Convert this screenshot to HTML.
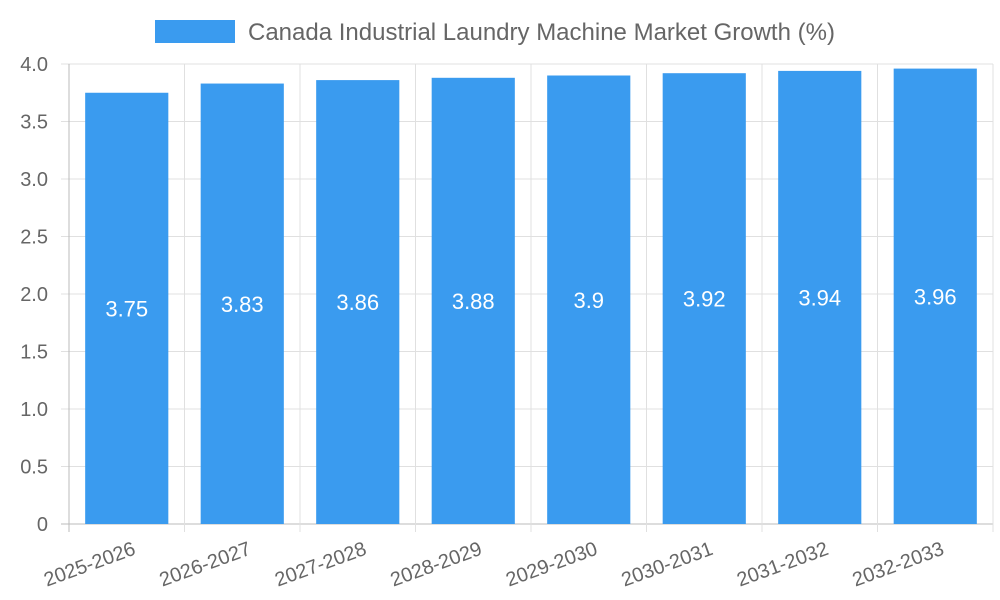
<!DOCTYPE html>
<html><head><meta charset="utf-8"><style>
html,body{margin:0;padding:0;background:#fff;width:1000px;height:600px;overflow:hidden}
svg text{font-family:"Liberation Sans",sans-serif}
</style></head><body>
<svg id="chart" width="1000" height="600" xmlns="http://www.w3.org/2000/svg">
<g id="legend">
<rect x="155" y="20" width="80" height="23" fill="#3a9bef"/>
<text x="248" y="40" font-size="24" fill="#666">Canada Industrial Laundry Machine Market Growth (%)</text>
</g>
<g id="grid"></g><g id="bars"></g><g id="labels"></g>
</svg>
<script>
const categories=["2025-2026","2026-2027","2027-2028","2028-2029","2029-2030","2030-2031","2031-2032","2032-2033"];
const values=[3.75,3.83,3.86,3.88,3.9,3.92,3.94,3.96];
const yTicks=[0,0.5,1,1.5,2,2.5,3,3.5,4];
const yTickLabels=["0","0.5","1.0","1.5","2.0","2.5","3.0","3.5","4.0"];
const NS="http://www.w3.org/2000/svg";
const L=69,R=993,T=64,B=524,yMax=4;
const bw=(R-L)/categories.length;
const y=v=>B-(v/yMax)*(B-T);
const x=i=>L+i*bw;
function mk(tag,attrs,parent,text){const e=document.createElementNS(NS,tag);for(const k in attrs)e.setAttribute(k,attrs[k]);if(text!==undefined)e.textContent=text;parent.appendChild(e);return e;}
const grid=document.getElementById('grid'),bars=document.getElementById('bars'),labels=document.getElementById('labels');
yTicks.forEach((t,i)=>{
  const g=mk('line',{x1:L-8,x2:R,y1:y(t),y2:y(t),stroke:i===0?'#bbb':'#e0e0e0','stroke-width':1},grid);
  
  
  const tx=mk('text',{x:L-21,y:y(t)+7,'text-anchor':'end','font-size':20,fill:'#666'},labels,yTickLabels[i]);
  
  
});
for(let i=0;i<=categories.length;i++){
  const g=mk('line',{x1:x(i),x2:x(i),y1:T,y2:B+8,stroke:i===0?'#bbb':'#e0e0e0','stroke-width':1},grid);
  
  
}
categories.forEach((c,i)=>{
  const cx=x(i)+bw/2,w=bw*0.72;
  const r=mk('rect',{x:cx-w/2,y:y(values[i]),width:w,height:B-y(values[i]),fill:'#3a9bef'},bars);
  
  
  const v=mk('text',{x:cx,y:(y(values[i])+B)/2+8,'text-anchor':'middle','font-size':22,fill:'#fff'},labels,String(values[i]));
  
  
  const xl=mk('text',{x:cx+10,y:B+30,'text-anchor':'end','font-size':20,fill:'#666',transform:`rotate(-20 ${cx+10} ${B+30})`},labels,c);
  
  
});
</script>
</body></html>
